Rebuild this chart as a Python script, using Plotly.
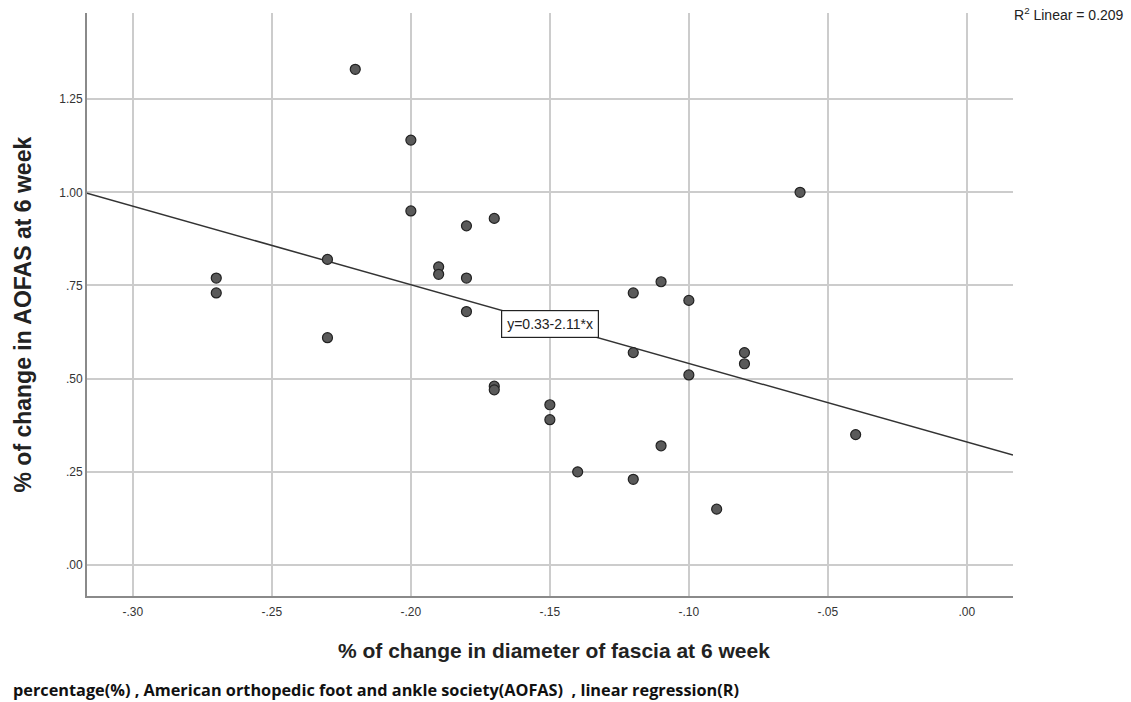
import plotly.graph_objects as go

# Data
x_vals = [-0.27, -0.27, -0.23, -0.23, -0.22, -0.20, -0.20, -0.19, -0.19, -0.18,
          -0.18, -0.18, -0.17, -0.17, -0.17, -0.15, -0.15, -0.14, -0.12, -0.12,
          -0.12, -0.11, -0.11, -0.10, -0.10, -0.09, -0.08, -0.08, -0.06, -0.04]
y_vals = [0.77, 0.73, 0.82, 0.61, 1.33, 1.14, 0.95, 0.80, 0.78, 0.91,
          0.77, 0.68, 0.93, 0.48, 0.47, 0.43, 0.39, 0.25, 0.73, 0.57,
          0.23, 0.76, 0.32, 0.71, 0.51, 0.15, 0.57, 0.54, 1.00, 0.35]

intercept = 0.33
slope = -2.11
r2_text = "R<sup>2</sup> Linear = 0.209"
eq_text = "y=0.33-2.11*x"

x_tick_vals = [-0.30, -0.25, -0.20, -0.15, -0.10, -0.05, 0.00]
x_tick_text = ["-.30", "-.25", "-.20", "-.15", "-.10", "-.05", ".00"]
y_tick_vals = [0.00, 0.25, 0.50, 0.75, 1.00, 1.25]
y_tick_text = [".00", ".25", ".50", ".75", "1.00", "1.25"]

x_range = [-0.3165, 0.0166]
y_range = [-0.083, 1.481]

line_x = x_range
line_y = [intercept + slope * v for v in line_x]

fig = go.Figure()
fig.add_trace(go.Scatter(
    x=line_x, y=line_y, mode="lines",
    line=dict(color="#333333", width=1.5), hoverinfo="skip", showlegend=False))
fig.add_trace(go.Scatter(
    x=x_vals, y=y_vals, mode="markers",
    marker=dict(size=10, color="#5a5a5a", line=dict(color="#222222", width=1.2)),
    showlegend=False))

axis_font = dict(family="Liberation Sans, Arial, sans-serif", size=12, color="#333333")

fig.update_xaxes(range=x_range, tickvals=x_tick_vals, ticktext=x_tick_text,
                 showgrid=True, gridcolor="#cccccc", gridwidth=1.5,
                 showline=True, linecolor="#8a8a8a", linewidth=2,
                 zeroline=False, ticks="", tickfont=axis_font, ticklabelstandoff=4)
fig.update_yaxes(range=y_range, tickvals=y_tick_vals, ticktext=y_tick_text,
                 showgrid=True, gridcolor="#cccccc", gridwidth=1.5,
                 showline=True, linecolor="#8a8a8a", linewidth=2,
                 zeroline=False, ticks="", tickfont=axis_font)

fig.add_annotation(text="<b>% of change in diameter of fascia at 6 week</b>",
                   xref="paper", yref="paper", x=0.5, y=0, xanchor="center",
                   yanchor="middle", yshift=-54, xshift=4, showarrow=False,
                   font=dict(family="Liberation Sans, Arial, sans-serif", size=21, color="#222222"))
fig.add_annotation(text="<b>% of change in AOFAS at 6 week</b>",
                   xref="paper", yref="paper", x=0, y=0.5, xanchor="center",
                   yanchor="middle", xshift=-65, yshift=-10, textangle=-90, showarrow=False,
                   font=dict(family="Liberation Sans, Arial, sans-serif", size=23, color="#222222"))
fig.add_annotation(text="<b>percentage(%) , American orthopedic foot and ankle society(AOFAS)  , linear regression(R)</b>",
                   xref="paper", yref="paper", x=0, y=0, xanchor="left",
                   yanchor="middle", xshift=-76, yshift=-94, showarrow=False,
                   font=dict(family="Open Sans, Lato, sans-serif", size=16.3, color="#111111"))
fig.add_annotation(text=r2_text, xref="paper", yref="paper", x=1, y=1,
                   xanchor="left", yanchor="middle", xshift=-1, yshift=-1,
                   showarrow=False,
                   font=dict(family="Liberation Sans, Arial, sans-serif", size=14, color="#222222"))
fig.add_annotation(text=eq_text, x=-0.150, y=0.647, xref="x", yref="y",
                   xanchor="center", yanchor="middle", showarrow=False,
                   bgcolor="white", bordercolor="#222222", borderwidth=1.2, borderpad=5,
                   font=dict(family="Liberation Sans, Arial, sans-serif", size=14, color="#222222"))

fig.update_layout(width=1131, height=702, margin=dict(l=87, r=118, t=13, b=106),
                  plot_bgcolor="white", paper_bgcolor="white")

fig.write_html("out.html", config={"displayModeBar": False},
               post_script="document.body.style.margin='0';document.body.style.overflow='hidden';")
